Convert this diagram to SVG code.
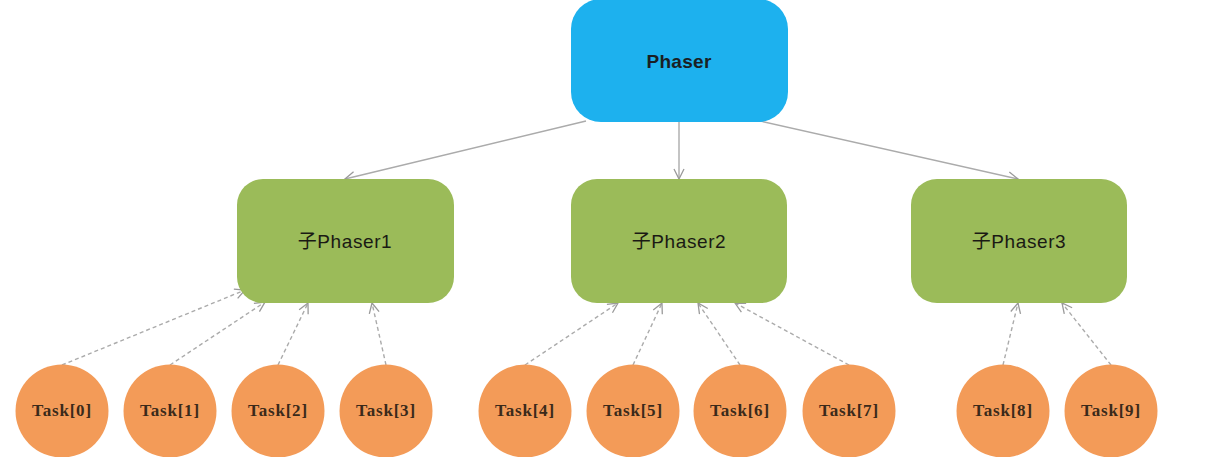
<svg xmlns="http://www.w3.org/2000/svg" width="1216" height="472" viewBox="0 0 1216 472">
  <style>
    .root { fill: #1DB1EE; }
    .sub { fill: #9BBB59; }
    .task { fill: #F39B58; }
    .lbl { font-family: "Liberation Sans", "Noto Sans CJK SC", sans-serif; font-size: 19px; font-weight: bold; fill: #1a1f24; text-anchor: middle; dominant-baseline: central; letter-spacing: 0.3px; }
    .sublbl { font-family: "Liberation Sans", "Noto Sans CJK SC", sans-serif; font-size: 19px; fill: #1a1a14; text-anchor: middle; dominant-baseline: central; letter-spacing: 0.6px; }
    .tlbl { font-family: "Liberation Serif", "DejaVu Serif", serif; font-size: 17px; font-weight: bold; fill: #3a2a1a; text-anchor: middle; dominant-baseline: central; letter-spacing: 0.8px; }
    .solid { stroke: #ABABAB; stroke-width: 1.4; fill: none; marker-end: url(#arr); }
    .dash { stroke: #ABABAB; stroke-width: 1.4; fill: none; stroke-dasharray: 4 3; marker-end: url(#arr); }
  </style>
  <defs>
    <marker id="arr" viewBox="0 0 12 12" refX="11" refY="6" markerWidth="12" markerHeight="12" markerUnits="userSpaceOnUse" orient="auto">
      <path d="M1,1 L11,6 L1,11" fill="none" stroke="#9A9A9A" stroke-width="1.3"/>
    </marker>
    <clipPath id="cut"><rect x="0" y="0" width="1216" height="457"/></clipPath>
  </defs>
  <rect width="1216" height="472" fill="#FFFFFF"/>

  <g id="connectors">
    <line class="solid" x1="586" y1="121" x2="345" y2="179"/>
    <line class="solid" x1="679" y1="122" x2="679" y2="179"/>
    <line class="solid" x1="760" y1="121" x2="1018" y2="179"/>
    <line class="dash" x1="62" y1="365" x2="245" y2="290"/>
    <line class="dash" x1="170" y1="365" x2="265" y2="302"/>
    <line class="dash" x1="278" y1="365" x2="308" y2="303"/>
    <line class="dash" x1="386" y1="365" x2="372" y2="303"/>
    <line class="dash" x1="525" y1="365" x2="618" y2="303"/>
    <line class="dash" x1="633" y1="365" x2="662" y2="303"/>
    <line class="dash" x1="740" y1="365" x2="698" y2="303"/>
    <line class="dash" x1="849" y1="365" x2="735" y2="303"/>
    <line class="dash" x1="1003" y1="365" x2="1018" y2="303"/>
    <line class="dash" x1="1111" y1="365" x2="1062" y2="303"/>
  </g>

  <g id="phaser">
    <rect class="root" x="571" y="-1" width="217" height="123" rx="30"/>
    <text class="lbl" x="679" y="61">Phaser</text>
  </g>
  <g id="sub1">
    <rect class="sub" x="237" y="179" width="217" height="124" rx="26"/>
    <text class="sublbl" x="345" y="241">子Phaser1</text>
  </g>
  <g id="sub2">
    <rect class="sub" x="571" y="179" width="216" height="124" rx="26"/>
    <text class="sublbl" x="679" y="241">子Phaser2</text>
  </g>
  <g id="sub3">
    <rect class="sub" x="911" y="179" width="216" height="124" rx="26"/>
    <text class="sublbl" x="1019" y="241">子Phaser3</text>
  </g>

  <g clip-path="url(#cut)">
    <g id="task0"><circle class="task" cx="62" cy="411" r="46.5"/><text class="tlbl" x="62" y="410">Task[0]</text></g>
    <g id="task1"><circle class="task" cx="170" cy="411" r="46.5"/><text class="tlbl" x="170" y="410">Task[1]</text></g>
    <g id="task2"><circle class="task" cx="278" cy="411" r="46.5"/><text class="tlbl" x="278" y="410">Task[2]</text></g>
    <g id="task3"><circle class="task" cx="386" cy="411" r="46.5"/><text class="tlbl" x="386" y="410">Task[3]</text></g>
    <g id="task4"><circle class="task" cx="525" cy="411" r="46.5"/><text class="tlbl" x="525" y="410">Task[4]</text></g>
    <g id="task5"><circle class="task" cx="633" cy="411" r="46.5"/><text class="tlbl" x="633" y="410">Task[5]</text></g>
    <g id="task6"><circle class="task" cx="740" cy="411" r="46.5"/><text class="tlbl" x="740" y="410">Task[6]</text></g>
    <g id="task7"><circle class="task" cx="849" cy="411" r="46.5"/><text class="tlbl" x="849" y="410">Task[7]</text></g>
    <g id="task8"><circle class="task" cx="1003" cy="411" r="46.5"/><text class="tlbl" x="1003" y="410">Task[8]</text></g>
    <g id="task9"><circle class="task" cx="1111" cy="411" r="46.5"/><text class="tlbl" x="1111" y="410">Task[9]</text></g>
  </g>
</svg>
